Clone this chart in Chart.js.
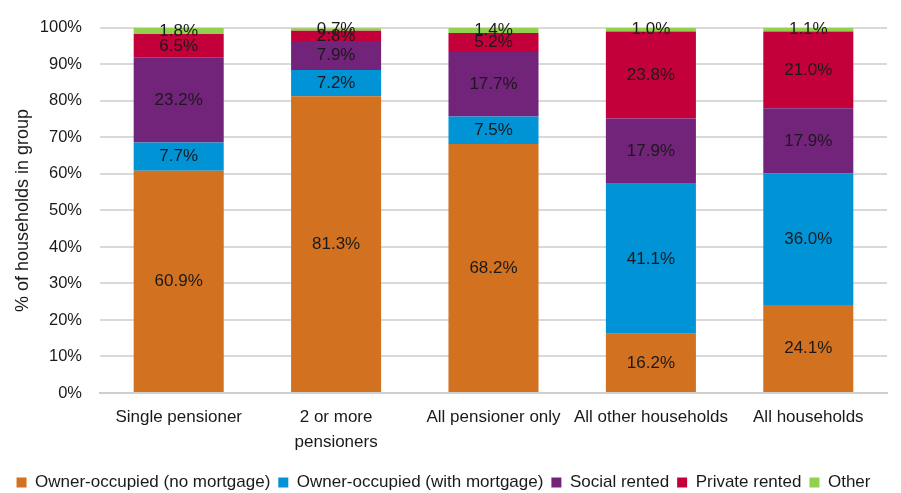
<!DOCTYPE html>
<html>
<head>
<meta charset="utf-8">
<script src="https://cdn.jsdelivr.net/npm/chart.js@4.4.1/dist/chart.umd.min.js"></script>
<style>
  body { margin: 0; background: #fff; }
  canvas { display: block; }
</style>
</head>
<body>
<canvas id="tenureChart" width="901" height="493"></canvas>
<script>
// categories (x axis)
const groups = [
  'Single pensioner',
  ['2 or more', 'pensioners'],
  'All pensioner only',
  'All other households',
  'All households'
];

// % of households in each tenure, per group
const ownerNoMortgage = [60.9, 81.3, 68.2, 16.2, 24.1];
const ownerMortgage = [7.7, 7.2, 7.5, 41.1, 36.0];
const socialRented = [23.2, 7.9, 17.7, 17.9, 17.9];
const privateRented = [6.5, 2.8, 5.2, 23.8, 21.0];
const otherTenure = [1.8, 0.7, 1.4, 1.0, 1.1];

const FONT = "'Liberation Sans', Arial, sans-serif";

// draws the value in the middle of each segment
const segmentLabels = {
  id: 'segmentLabels',
  afterDatasetsDraw(chart) {
    const ctx = chart.ctx;
    ctx.save();
    ctx.font = '17px ' + FONT;
    ctx.fillStyle = '#1a1a1a';
    ctx.textAlign = 'center';
    ctx.textBaseline = 'middle';
    chart.data.datasets.forEach((ds, i) => {
      const meta = chart.getDatasetMeta(i);
      meta.data.forEach((bar, j) => {
        const yMid = (bar.y + bar.base) / 2;
        ctx.fillText(ds.data[j].toFixed(1) + '%', bar.x, yMid);
      });
    });
    ctx.restore();
  }
};

const ctx = document.getElementById('tenureChart').getContext('2d');
new Chart(ctx, {
  type: 'bar',
  data: {
    labels: groups,
    datasets: [
      { label: 'Owner-occupied (no mortgage)', data: ownerNoMortgage, backgroundColor: '#D2711F' },
      { label: 'Owner-occupied (with mortgage)', data: ownerMortgage, backgroundColor: '#0093D6' },
      { label: 'Social rented', data: socialRented, backgroundColor: '#72237A' },
      { label: 'Private rented', data: privateRented, backgroundColor: '#C4003A' },
      { label: 'Other', data: otherTenure, backgroundColor: '#92D050' }
    ]
  },
  options: {
    responsive: false,
    animation: false,
    layout: { padding: { top: 22, right: 14, bottom: -8, left: 0 } },
    datasets: {
      bar: { categoryPercentage: 1, barPercentage: 0.572, borderWidth: 0 }
    },
    plugins: {
      tooltip: { enabled: false },
      legend: {
        position: 'bottom',
        labels: {
          boxWidth: 10,
          boxHeight: 10,
          padding: 8,
          color: '#1a1a1a',
          font: { family: FONT, size: 17 }
        }
      }
    },
    scales: {
      x: {
        stacked: true,
        grid: { display: false, drawTicks: false },
        border: { color: '#cfcfcf', width: 2 },
        ticks: {
          color: '#1a1a1a',
          padding: 12,
          maxRotation: 0,
          autoSkip: false,
          font: { family: FONT, size: 17, lineHeight: 1.47 }
        },
        afterFit: s => { s.height = 73; }
      },
      y: {
        stacked: true,
        min: 0,
        max: 100,
        grid: { color: '#d9d9d9', lineWidth: 2, drawTicks: false },
        border: { display: false },
        ticks: {
          stepSize: 10,
          padding: 18,
          color: '#1a1a1a',
          font: { family: FONT, size: 16.5 },
          callback: v => v + '%'
        },
        title: {
          display: true,
          text: '% of households in group',
          color: '#1a1a1a',
          padding: { top: 12, bottom: 0 },
          font: { family: FONT, size: 18 }
        },
        afterFit: s => { s.width = 100; }
      }
    }
  },
  plugins: [segmentLabels]
});
</script>
</body>
</html>
